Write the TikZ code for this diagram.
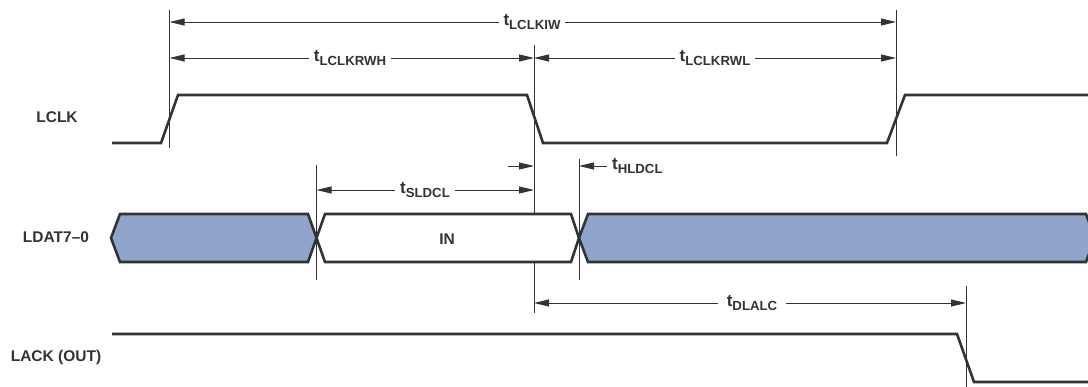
\documentclass[tikz,border=0pt]{standalone}
\usepackage{fontspec}
\setmainfont{Liberation Sans}
\usetikzlibrary{arrows.meta}
\definecolor{ink}{HTML}{333333}
\definecolor{busblue}{HTML}{8FA5CB}
\newcommand{\tsub}[2]{{\fontsize{17}{17}\selectfont #1}{\fontsize{13.2}{13.2}\selectfont\raisebox{-3.5pt}{#2}}}
\begin{document}
\begin{tikzpicture}[x=1pt,y=-1pt,
  sig/.style={draw=ink,line width=2.6pt,line join=miter},
  bus/.style={draw=ink,line width=2.6pt,line join=miter},
  refline/.style={draw=ink,line width=0.9pt},
  dimarrow/.style={draw=ink,line width=0.9pt,{Triangle[length=15pt,width=7pt]}-{Triangle[length=15pt,width=7pt]}},
  halfarrow/.style={draw=ink,line width=0.9pt,-{Triangle[length=15pt,width=7pt]}},
  tlab/.style={fill=white,text=ink,font=\bfseries,inner xsep=5pt,inner ysep=0pt},
  hlab/.style={text=ink,font=\bfseries,inner sep=0pt,anchor=west},
  siglab/.style={text=ink,font=\bfseries\fontsize{15.5}{15.5}\selectfont,inner sep=0pt}
]
\useasboundingbox (0,0) rectangle (1088,387);

% signal names
\node[siglab] (nlclk) at (57,117) {LCLK};
\node[siglab] (nldat) at (56,237) {LDAT7–0};
\node[siglab] (nlack) at (56,357) {LACK (OUT)};

% reference lines
\coordinate (a1) at (169.5,10);  \coordinate (a2) at (169.5,148);
\coordinate (b1) at (534,45);    \coordinate (b2) at (534,313);
\coordinate (c1) at (896,10);    \coordinate (c2) at (896,156);
\coordinate (d1) at (316.5,165); \coordinate (d2) at (316.5,280);
\coordinate (e1) at (579,159);   \coordinate (e2) at (579,280);
\coordinate (f1) at (966,286);   \coordinate (f2) at (966,390);
\foreach \p/\q in {a1/a2,b1/b2,c1/c2,d1/d2,e1/e2,f1/f2} \draw[refline] (\p) -- (\q);

% LCLK
\draw[sig] (112,143) -- (161,143) -- (178,95) -- (527,95) -- (543,143)
  -- (887,143) -- (905,95) -- (1092,95);

% LDAT bus
\draw[bus,fill=busblue] (111,238) -- (120,214) -- (308,214) -- (316.5,238) -- (308,262) -- (120,262) -- cycle;
\draw[bus,fill=white] (316.5,238) -- (325,214) -- (571,214) -- (579,238) -- (571,262) -- (325,262) -- cycle;
\draw[bus,fill=busblue] (579,238) -- (588,214) -- (1086,214) -- (1095,238) -- (1086,262) -- (588,262) -- cycle;
\node[text=ink,font=\bfseries\fontsize{15.5}{15.5}\selectfont,inner sep=0pt] (nin) at (447,239) {IN};

% LACK
\draw[sig] (112,334) -- (957,334) -- (974,382) -- (1092,382);

% dimension arrows
\coordinate (iwL) at (169.5,22); \coordinate (iwR) at (896,22);
\draw[dimarrow] (iwL) -- (iwR);
\node[tlab] (tiw) at (532,22) {\tsub{t}{LCLKIW}};

\coordinate (rhL) at (169.5,58); \coordinate (rhR) at (534,58);
\draw[dimarrow] (rhL) -- (rhR);
\node[tlab] (trh) at (350,58) {\tsub{t}{LCLKRWH}};

\coordinate (rlL) at (534,58); \coordinate (rlR) at (896,58);
\draw[dimarrow] (rlL) -- (rlR);
\node[tlab] (trl) at (715,58) {\tsub{t}{LCLKRWL}};

\coordinate (slL) at (316.5,190); \coordinate (slR) at (534,190);
\draw[dimarrow] (slL) -- (slR);
\node[tlab] (tsl) at (425,190) {\tsub{t}{SLDCL}};

\coordinate (suA) at (508,166); \coordinate (suB) at (534,166);
\draw[halfarrow] (suA) -- (suB);
\coordinate (hlA) at (607,166); \coordinate (hlB) at (579,166);
\draw[halfarrow] (hlA) -- (hlB);
\node[hlab] (thl) at (612,166) {\tsub{t}{HLDCL}};

\coordinate (daL) at (534,303); \coordinate (daR) at (966,303);
\draw[dimarrow] (daL) -- (daR);
\node[tlab,inner xsep=9pt] (tda) at (752,303) {\tsub{t}{DLALC}};
\end{tikzpicture}
\end{document}
